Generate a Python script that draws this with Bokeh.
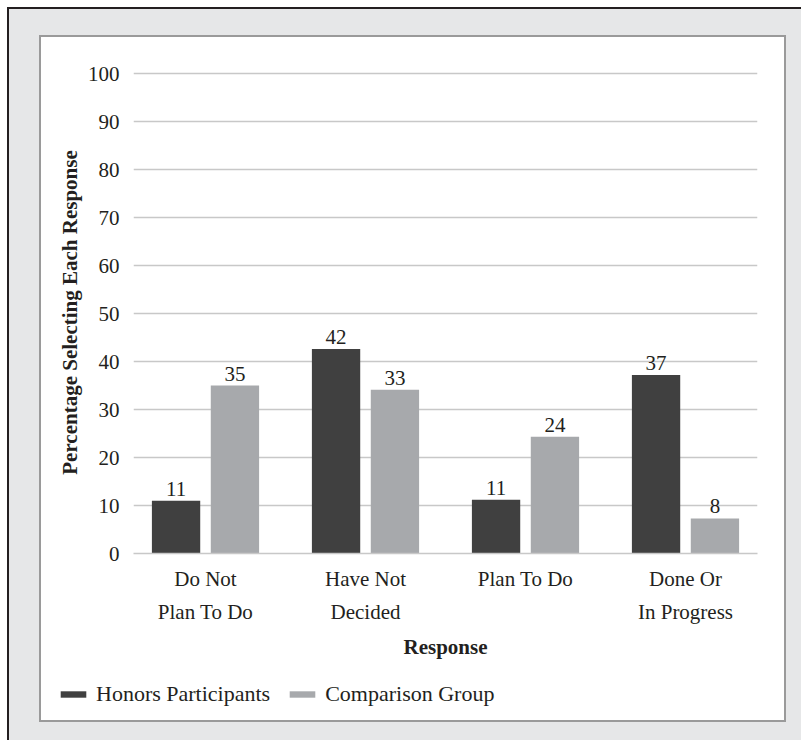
from bokeh.plotting import figure
from bokeh.models import FactorRange, ColumnDataSource, FixedTicker, Range1d, Legend, LegendItem
from bokeh.transform import dodge
from bokeh.layouts import column
from bokeh.core.properties import value
from bokeh.embed import file_html
from bokeh.resources import INLINE

categories = ["Do Not\nPlan To Do", "Have Not\nDecided", "Plan To Do", "Done Or\nIn Progress"]
honors = [11.0, 42.6, 11.2, 37.2]
comparison = [35.0, 34.1, 24.3, 7.3]
honors_labels = ["11", "42", "11", "37"]
comparison_labels = ["35", "33", "24", "8"]
y_ticks = [0, 10, 20, 30, 40, 50, 60, 70, 80, 90, 100]
series_names = ["Honors Participants", "Comparison Group"]

FONT = "Liberation Serif"
TXT = "#231f20"
DARK = "#404040"
LIGHT = "#a7a9ac"

src = ColumnDataSource(dict(cat=categories, honors=honors, comparison=comparison,
                            hl=honors_labels, cl=comparison_labels))

p = figure(width=743, height=633, output_backend="svg", toolbar_location=None,
           x_range=FactorRange(*categories, range_padding=-0.05, range_padding_units="absolute"),
           y_range=Range1d(0, 100.42),
           min_border_left=92, min_border_right=27, min_border_top=34, min_border_bottom=117)
p.background_fill_color = "white"
p.border_fill_color = "white"
p.outline_line_color = None

off = 0.184
w = 0.302
p.vbar(x=dodge("cat", -off, range=p.x_range), top="honors", width=w, source=src,
       fill_color=DARK, line_color=None)
p.vbar(x=dodge("cat", off, range=p.x_range), top="comparison", width=w, source=src,
       fill_color=LIGHT, line_color=None)

p.text(x=dodge("cat", -off, range=p.x_range), y="honors", text="hl", source=src,
       text_align="center", text_baseline="alphabetic", y_offset=-12,
       text_font=value(FONT), text_font_size="21px", text_color=TXT)
p.text(x=dodge("cat", off, range=p.x_range), y="comparison", text="cl", source=src,
       text_align="center", text_baseline="alphabetic", y_offset=-12,
       text_font=value(FONT), text_font_size="21px", text_color=TXT)

p.xgrid.grid_line_color = None
p.ygrid.grid_line_color = "#c8c8c8"
p.ygrid.grid_line_width = 1.5
p.yaxis.ticker = FixedTicker(ticks=y_ticks)

for ax in (p.xaxis[0], p.yaxis[0]):
    ax.major_tick_line_color = None
    ax.minor_tick_line_color = None
    ax.major_label_text_font = FONT
    ax.major_label_text_font_size = "21px"
    ax.major_label_text_color = TXT
    ax.axis_label_text_font = FONT
    ax.axis_label_text_font_size = "21px"
    ax.axis_label_text_font_style = "bold"
    ax.axis_label_text_color = TXT

p.yaxis.axis_line_color = None
p.yaxis.major_label_standoff = 8
p.yaxis.axis_label = "Percentage Selecting Each Response"
p.yaxis.axis_label_standoff = 3

p.xaxis.axis_line_color = "#c8c8c8"
p.xaxis.axis_line_width = 1.5
p.xaxis.major_label_standoff = 7
p.xaxis.major_label_text_line_height = 1.4
p.xaxis.axis_label = "Response"
p.xaxis.axis_label_standoff = 8

# legend strip below the chart (same series, drawn outside the strip's visible y range)
q = figure(width=743, height=50, output_backend="svg", toolbar_location=None,
           x_range=p.x_range, y_range=Range1d(1000, 1050),
           x_axis_location=None, y_axis_location=None,
           min_border=0, min_border_left=0, min_border_right=0,
           min_border_top=0, min_border_bottom=0)
q.grid.visible = False
q.outline_line_color = None
q.background_fill_color = "white"
q.border_fill_color = "white"
d1 = q.vbar(x=dodge("cat", -off, range=p.x_range), top="honors", width=w, source=src,
            fill_color=DARK, line_color=None)
d2 = q.vbar(x=dodge("cat", off, range=p.x_range), top="comparison", width=w, source=src,
            fill_color=LIGHT, line_color=None)

lg = Legend(items=[LegendItem(label=series_names[0], renderers=[d1]),
                   LegendItem(label=series_names[1], renderers=[d2])],
            orientation="horizontal", location=(16, 13))
lg.glyph_width = 32
lg.glyph_height = 8
lg.label_standoff = 7
lg.spacing = 16
lg.padding = 0
lg.margin = 0
lg.border_line_color = None
lg.background_fill_alpha = 0
lg.label_text_font = FONT
lg.label_text_font_size = "22px"
lg.label_text_color = TXT
q.add_layout(lg, "center")

frame_box = column(p, column(q), spacing=0,
                   styles={"border": "2px solid #9a9a9a", "background-color": "white"})
grey_box = column(frame_box, width=794, height=733,
                  styles={"border-top": "2px solid #231f20", "border-left": "2px solid #231f20",
                          "background-color": "#e6e7e8", "padding-left": "30px",
                          "padding-top": "26px", "box-sizing": "border-box"})
page = column(grey_box, width=801, height=740,
              styles={"background-color": "white", "padding-left": "7px",
                      "padding-top": "7px", "box-sizing": "border-box"})

open("out.html", "w").write(file_html(page, INLINE))
